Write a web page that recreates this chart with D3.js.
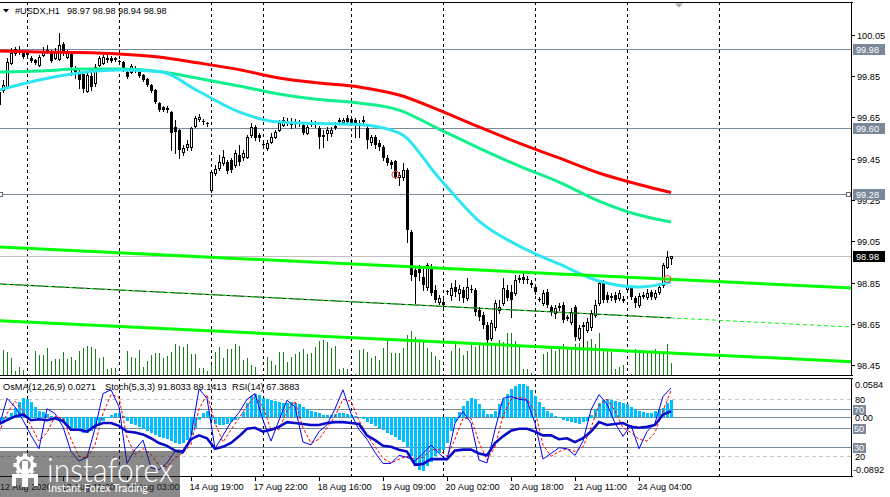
<!DOCTYPE html>
<html>
<head>
<meta charset="utf-8">
<script src="https://cdn.jsdelivr.net/npm/d3@7"></script>
<style>
  body { margin: 0; background: #fff; }
  svg { display: block; }
</style>
</head>
<body>
<div id="chart"></div>
<script>
const width = 890;
const height = 497;

// hourly bars, oldest first
const open = [99.774,99.783,99.798,99.914,99.963,99.977,99.963,99.958,99.938,99.929,99.905,99.953,99.972,99.963,99.938,99.934,100.006,99.943,99.963,99.890,
  99.871,99.861,99.778,99.851,99.817,99.905,99.914,99.938,99.938,99.938,99.924,99.919,99.871,99.871,99.890,99.871,99.856,99.837,99.808,99.783,
  99.720,99.701,99.696,99.677,99.604,99.589,99.483,99.507,99.507,99.609,99.643,99.633,99.623,99.298,99.381,99.405,99.429,99.434,99.444,99.420,
  99.468,99.458,99.458,99.565,99.604,99.565,99.522,99.502,99.531,99.555,99.589,99.614,99.628,99.619,99.628,99.623,99.614,99.575,99.619,99.619,
  99.599,99.565,99.575,99.575,99.604,99.633,99.628,99.648,99.643,99.638,99.623,99.638,99.599,99.531,99.555,99.526,99.507,99.454,99.434,99.439,
  99.362,99.362,99.395,99.095,98.911,98.915,98.877,98.828,98.925,98.814,98.755,98.755,98.809,98.789,98.828,98.799,98.814,98.775,98.818,98.814,
  98.717,98.692,98.644,98.581,98.634,98.717,98.751,98.814,98.804,98.799,98.867,98.877,98.867,98.848,98.828,98.772,98.751,98.804,98.731,98.702,
  98.731,98.741,98.678,98.658,98.731,98.581,98.639,98.620,98.634,98.692,98.751,98.848,98.789,98.780,98.789,98.775,98.765,98.818,98.823,98.775,
  98.741,98.785,98.780,98.804,98.780,98.804,98.838,98.925,98.970];
const high = [99.783,99.832,99.938,99.987,99.992,99.997,99.977,99.977,99.948,99.934,99.953,99.992,100.002,99.977,99.987,100.060,100.016,99.977,99.972,99.900,
  99.880,99.871,99.866,99.880,99.909,99.948,99.953,99.953,99.948,99.943,99.929,99.924,99.880,99.909,99.900,99.875,99.861,99.842,99.812,99.788,
  99.725,99.706,99.706,99.682,99.638,99.594,99.517,99.541,99.604,99.657,99.667,99.643,99.628,99.395,99.420,99.468,99.492,99.444,99.454,99.492,
  99.517,99.492,99.565,99.623,99.614,99.575,99.541,99.541,99.575,99.589,99.638,99.652,99.648,99.648,99.643,99.638,99.628,99.614,99.638,99.633,
  99.609,99.589,99.604,99.604,99.628,99.648,99.648,99.662,99.657,99.648,99.638,99.657,99.609,99.565,99.565,99.541,99.517,99.468,99.444,99.444,
  99.386,99.429,99.405,99.105,98.930,98.935,98.920,98.945,98.940,98.838,98.789,98.775,98.814,98.848,98.862,98.838,98.828,98.872,98.838,98.823,
  98.731,98.707,98.658,98.668,98.765,98.765,98.872,98.838,98.838,98.886,98.886,98.901,98.882,98.862,98.838,98.780,98.814,98.818,98.741,98.741,
  98.751,98.755,98.692,98.726,98.741,98.644,98.658,98.678,98.717,98.765,98.862,98.862,98.804,98.799,98.804,98.814,98.785,98.857,98.833,98.785,
  98.799,98.804,98.818,98.814,98.814,98.848,98.945,99.003,98.980];
const low = [99.677,99.774,99.793,99.909,99.953,99.958,99.938,99.948,99.919,99.909,99.900,99.948,99.963,99.919,99.934,99.929,99.953,99.938,99.856,99.842,
  99.793,99.774,99.774,99.783,99.803,99.900,99.909,99.919,99.919,99.924,99.909,99.875,99.842,99.866,99.871,99.846,99.827,99.803,99.774,99.720,
  99.682,99.682,99.677,99.492,99.478,99.454,99.468,99.492,99.492,99.604,99.633,99.619,99.609,99.289,99.371,99.395,99.420,99.381,99.386,99.410,
  99.420,99.444,99.454,99.555,99.541,99.536,99.507,99.492,99.526,99.551,99.585,99.609,99.614,99.599,99.604,99.609,99.570,99.570,99.609,99.604,
  99.502,99.507,99.541,99.560,99.594,99.623,99.619,99.619,99.614,99.555,99.555,99.619,99.502,99.517,99.502,99.492,99.444,99.420,99.405,99.357,
  99.323,99.347,99.046,98.862,98.751,98.862,98.814,98.814,98.789,98.755,98.746,98.731,98.794,98.765,98.785,98.765,98.755,98.765,98.804,98.692,
  98.668,98.629,98.562,98.571,98.620,98.702,98.741,98.765,98.683,98.789,98.852,98.848,98.848,98.828,98.794,98.760,98.741,98.731,98.692,98.678,
  98.717,98.658,98.668,98.649,98.571,98.571,98.537,98.610,98.620,98.683,98.741,98.755,98.755,98.765,98.755,98.765,98.755,98.809,98.770,98.731,
  98.731,98.775,98.770,98.770,98.770,98.794,98.828,98.920,98.940];
const close = [99.711,99.808,99.919,99.963,99.982,99.968,99.943,99.963,99.924,99.914,99.943,99.972,99.977,99.924,99.968,100.002,99.963,99.968,99.895,99.871,
  99.832,99.788,99.856,99.798,99.895,99.938,99.943,99.929,99.924,99.929,99.919,99.880,99.846,99.900,99.875,99.851,99.832,99.808,99.778,99.725,
  99.686,99.686,99.686,99.575,99.580,99.492,99.502,99.522,99.599,99.648,99.652,99.628,99.619,99.386,99.400,99.434,99.458,99.391,99.395,99.478,
  99.434,99.478,99.555,99.604,99.551,99.551,99.517,99.526,99.555,99.580,99.623,99.638,99.623,99.628,99.619,99.619,99.575,99.604,99.623,99.614,
  99.555,99.555,99.589,99.589,99.609,99.638,99.638,99.628,99.623,99.619,99.619,99.628,99.541,99.555,99.517,99.507,99.454,99.429,99.420,99.362,
  99.371,99.395,99.105,98.886,98.877,98.896,98.838,98.935,98.799,98.765,98.775,98.741,98.804,98.823,98.804,98.818,98.775,98.828,98.814,98.707,
  98.683,98.644,98.571,98.654,98.751,98.731,98.823,98.775,98.765,98.862,98.872,98.862,98.862,98.838,98.804,98.768,98.799,98.741,98.707,98.726,
  98.736,98.668,98.683,98.707,98.586,98.629,98.644,98.658,98.702,98.741,98.848,98.765,98.765,98.785,98.765,98.799,98.770,98.838,98.780,98.751,
  98.785,98.789,98.799,98.780,98.799,98.828,98.935,98.974,98.980];
// tick volume
const volume = [2200,2600,2400,1800,500,900,600,100,100,2500,2100,2100,2800,1500,1700,1700,2400,1700,1900,1600,
  2500,2800,3000,2900,2700,1800,1900,700,800,800,100,100,2500,1900,1800,2600,900,1500,2100,2300,
  2300,1800,2000,2400,3200,3000,2900,3200,2200,2200,800,800,500,1100,2400,2900,1800,2700,2700,3200,
  3000,1600,1800,1100,900,100,100,1900,1500,1100,2400,2400,1400,1900,2200,2400,2700,2200,2300,2900,
  3500,3600,3400,2800,3000,700,800,700,100,200,2600,2700,2400,1800,2000,1600,2800,3700,2300,2300,
  2300,2800,4100,4500,3900,3500,3400,2800,2400,2000,1600,100,100,2500,3200,2800,2100,2500,3100,2900,
  3200,3300,3400,3000,3300,3600,3400,4300,4300,3500,2900,700,700,300,100,100,2200,2400,2700,2500,
  2700,3200,2700,2800,3200,3300,3200,3500,3700,3200,4300,2500,2600,2400,700,900,1100,100,200,2700,
  2500,2600,2400,2500,2700,2500,2200,3200,1300];

// moving averages, read every 10 bars
const maBars = [0,10,20,30,40,50,60,70,80,90,100,110,120,130,140,150,160,168];
const maRed = [99.972,99.968,99.965,99.958,99.943,99.914,99.882,99.842,99.817,99.798,99.759,99.686,99.604,99.526,99.454,99.381,99.325,99.286];
const maGreen = [99.871,99.875,99.885,99.885,99.873,99.839,99.803,99.764,99.737,99.720,99.686,99.594,99.502,99.415,99.337,99.245,99.177,99.143];
const maCyan = [99.783,99.832,99.866,99.880,99.873,99.776,99.677,99.628,99.621,99.616,99.575,99.357,99.148,99.027,98.940,98.857,98.828,98.852];

// regression channel, from first bar to the right edge
const channelBars = [0, 213.25];
const channelTop = [99.022, 98.823];
const channelMid = [98.843, 98.634];
const channelLow = [98.665, 98.466];

const levels = [99.98, 99.60, 99.28];
const lastPrice = 98.98;
const priceTicks = [100.05, 99.85, 99.65, 99.45, 99.25, 99.05, 98.85, 98.65, 98.45];
const markerBars = [99, 167];
const markerPrices = [99.373, 98.867];

// OsMA(12,26,9) every bar
const osma = [-0.008,-0.009,-0.006,0.006,0.015,0.024,0.029,0.028,0.024,0.016,0.010,0.008,0.005,0.002,-0.003,-0.006,-0.009,-0.013,-0.017,-0.020,
  -0.022,-0.024,-0.025,-0.022,-0.017,-0.012,-0.006,-0.002,0.004,0.006,0.006,0.002,-0.006,-0.010,-0.012,-0.015,-0.018,-0.021,-0.024,-0.027,
  -0.030,-0.032,-0.034,-0.037,-0.039,-0.041,-0.040,-0.035,-0.028,-0.018,-0.005,0.006,0.010,-0.004,-0.010,-0.012,-0.012,-0.010,-0.008,-0.005,
  -0.001,0.008,0.022,0.032,0.035,0.034,0.030,0.028,0.026,0.025,0.023,0.022,0.022,0.023,0.022,0.020,0.016,0.013,0.010,0.008,
  0.006,0.004,0.003,0.004,0.005,0.006,0.006,0.005,0.004,0.002,-0.001,-0.003,-0.008,-0.011,-0.014,-0.017,-0.020,-0.024,-0.027,-0.031,
  -0.035,-0.038,-0.045,-0.060,-0.072,-0.080,-0.082,-0.075,-0.068,-0.060,-0.055,-0.050,-0.040,-0.022,-0.008,0.008,0.018,0.025,0.030,0.028,
  0.020,0.012,0.005,0.005,0.010,0.020,0.028,0.036,0.043,0.048,0.051,0.051,0.048,0.042,0.033,0.024,0.016,0.010,0.006,0.002,
  -0.002,-0.004,-0.006,-0.008,-0.009,-0.010,-0.008,-0.006,0.004,0.012,0.022,0.027,0.028,0.027,0.025,0.023,0.022,0.020,0.016,0.012,
  0.009,0.008,0.007,0.007,0.009,0.011,0.014,0.022,0.0271];

// Stoch(5,3,3) and RSI(14), read every 2 bars
const oscBars = d3.range(0, 169, 2);
const stochMain = [51,81,72,58,42,28,70,65,51,25,15,19,49,86,90,72,12.5,27,37,8,6,13,25,23,41,91,81,28,42,56,66,80,86,58,36,58,79,72,35,32,
  46,53,70,90,65,48,38,24,12.5,12.5,21,19,15,23,32,23,16,55,67,55,16,13,48,81,83,80,79,55,17,23,29,28,21,36,69,85,75,55,41,53,28,46,55,83,91.8];
const stochSignal = [45,65,78,68,52,36,45,62,60,38,20,18,32,65,85,82,40,22,28,22,10,9,18,24,32,70,85,55,35,48,60,73,84,72,48,48,68,78,50,34,
  38,50,62,80,78,58,42,30,18,13,17,20,17,19,27,27,20,38,60,60,35,16,30,62,80,82,80,68,32,20,25,28,25,30,50,74,80,68,50,45,38,36,45,68,89.1];
const rsi = [54,58,62,64,58,59,58,60,57,48,48,46,52,55,55,52,46,45,43,39,34,31,26,25,38,42,39,28,30,34,41,49,50,46,48,51,56,55,54,53,
  53,55,56,56,55,54,42,37,31,30,27,25,11,12,17,17,17,26,27,27,23,21,34,41,47,49,49,46,42,42,38,39,35,39,46,56,53,54,55,51,50,51,53,64,67.4];

const timeBars = [0,16,32,48,64,80,96,112,128,144,160];
const timeLabels = ["12 Aug 2020","13 Aug 11:00","14 Aug 03:00","14 Aug 19:00","17 Aug 22:00","18 Aug 16:00",
  "19 Aug 09:00","20 Aug 02:00","20 Aug 18:00","21 Aug 11:00","24 Aug 04:00"];
const gridBars = [7, 30, 53, 66, 88, 111, 134, 157, 180];

const FONT = "Tahoma, 'Liberation Sans', Arial, sans-serif";
const right = 852;
const mainTop = 2, mainBottom = 376, subTop = 378, subBottom = 476;
const slate = "#778899";

const svg = d3.select("#chart").append("svg")
  .attr("width", width).attr("height", height)
  .style("font-family", FONT);

svg.append("rect").attr("width", width).attr("height", height).attr("fill", "#fff");

const x = d3.scaleLinear().domain([0, 213.25]).range([-1, right]);
const y = d3.scaleLinear().domain([98.45, 100.05]).range([365, 35]);
const yVol = d3.scaleLinear().domain([0, 5000]).range([mainBottom, mainBottom - 50]);
const yOsc = d3.scaleLinear().domain([0, 100]).range([475.3, 380.3]);
const yOsma = d3.scaleLinear().domain([-0.0892, 0.0584]).range([subBottom, subTop + 1]);

const bx = (i) => Math.round(x(i));
const py = (v) => Math.round(y(v));

const defs = svg.append("defs");
defs.append("clipPath").attr("id", "clipMain").append("rect")
  .attr("x", 0).attr("y", mainTop + 1).attr("width", right).attr("height", mainBottom - mainTop - 1);
defs.append("clipPath").attr("id", "clipSub").append("rect")
  .attr("x", 0).attr("y", subTop + 1).attr("width", right).attr("height", subBottom - subTop - 1);

const main = svg.append("g").attr("clip-path", "url(#clipMain)");
const sub = svg.append("g").attr("clip-path", "url(#clipSub)");

// ---- main window ----
main.selectAll(".grid").data(gridBars).enter().append("line")
  .attr("x1", (d) => bx(d) + 0.5).attr("x2", (d) => bx(d) + 0.5)
  .attr("y1", mainTop).attr("y2", mainBottom)
  .attr("stroke", "#000").attr("stroke-dasharray", "3,3");

main.selectAll(".vol").data(volume).enter().append("line")
  .attr("x1", (d, i) => bx(i) + 0.5).attr("x2", (d, i) => bx(i) + 0.5)
  .attr("y1", yVol(0)).attr("y2", (d) => Math.round(yVol(d)))
  .attr("stroke", "#1a7f1a").attr("stroke-width", 1);

main.selectAll(".level").data(levels).enter().append("line")
  .attr("x1", 0).attr("x2", right)
  .attr("y1", (d) => py(d) + 0.5).attr("y2", (d) => py(d) + 0.5)
  .attr("stroke", slate);

main.append("line")
  .attr("x1", 0).attr("x2", right)
  .attr("y1", py(lastPrice) + 0.5).attr("y2", py(lastPrice) + 0.5)
  .attr("stroke", "#c0c0c0");

// candles
const bars = main.selectAll(".bar").data(d3.range(close.length)).enter().append("g");
bars.append("line")
  .attr("x1", (i) => bx(i) + 0.5).attr("x2", (i) => bx(i) + 0.5)
  .attr("y1", (i) => py(high[i])).attr("y2", (i) => py(low[i]) + 1)
  .attr("stroke", "#000");
bars.each(function (i) {
  const g = d3.select(this);
  const yo = py(open[i]), yc = py(close[i]);
  if (close[i] > open[i]) {
    g.append("rect")
      .attr("x", bx(i) - 0.5).attr("y", yc + 0.5)
      .attr("width", 2).attr("height", Math.max(yo - yc, 1))
      .attr("fill", "#fff").attr("stroke", "#000");
  } else {
    g.append("rect")
      .attr("x", bx(i) - 1).attr("y", yo)
      .attr("width", 3).attr("height", Math.max(yc - yo, 1))
      .attr("fill", "#000");
  }
});

// moving averages
const maLine = d3.line().x((d, k) => x(maBars[k])).y((d) => y(d)).curve(d3.curveMonotoneX);
[[maRed, "#ff0000"], [maGreen, "#10f08e"], [maCyan, "#2ee6f2"]].forEach(([vals, col]) => {
  main.append("path").attr("d", maLine(vals))
    .attr("fill", "none").attr("stroke", col).attr("stroke-width", 3);
});

// channel
const chLine = d3.line().x((d, k) => x(channelBars[k])).y((d) => y(d));
main.append("path").attr("d", chLine(channelTop)).attr("fill", "none").attr("stroke", "#00ff00").attr("stroke-width", 3);
main.append("path").attr("d", chLine(channelLow)).attr("fill", "none").attr("stroke", "#00ff00").attr("stroke-width", 3);
main.append("line")
  .attr("x1", x(0)).attr("y1", y(channelMid[0]))
  .attr("x2", x(close.length - 1))
  .attr("y2", y(channelMid[0] + (channelMid[1] - channelMid[0]) * (close.length - 1) / channelBars[1]))
  .attr("stroke", "#000").attr("stroke-width", 1);
main.append("path").attr("d", chLine(channelMid)).attr("fill", "none")
  .attr("stroke", "#00ff00").attr("stroke-width", 1).attr("stroke-dasharray", "4,3");

// handles on the 99.28 line
[1, 849].forEach((hx) => {
  main.append("rect").attr("x", hx - 2.5).attr("y", py(99.28) - 1.5)
    .attr("width", 4).attr("height", 4).attr("fill", "#fff").attr("stroke", "#666");
});

main.selectAll(".mark").data(markerBars).enter().append("circle")
  .attr("cx", (d) => bx(d) + 0.5).attr("cy", (d, k) => y(markerPrices[k]))
  .attr("r", 3.5).attr("fill", "none").attr("stroke", "#ff3b3b").attr("stroke-width", 1);

// ---- indicator window ----
[[80, true], [20, true], [70, false], [50, false], [30, false]].forEach(([v, dashed]) => {
  sub.append("line").attr("x1", 0).attr("x2", right)
    .attr("y1", Math.round(yOsc(v)) + 0.5).attr("y2", Math.round(yOsc(v)) + 0.5)
    .attr("stroke", dashed ? "#c8c8c8" : slate)
    .attr("stroke-dasharray", dashed ? "4,3" : null);
});
sub.append("line").attr("x1", 0).attr("x2", right)
  .attr("y1", Math.round(yOsma(0)) + 0.5).attr("y2", Math.round(yOsma(0)) + 0.5)
  .attr("stroke", slate);

sub.selectAll(".grid").data(gridBars).enter().append("line")
  .attr("x1", (d) => bx(d) + 0.5).attr("x2", (d) => bx(d) + 0.5)
  .attr("y1", subTop).attr("y2", subBottom)
  .attr("stroke", "#000").attr("stroke-dasharray", "3,3");

sub.selectAll(".hist").data(osma).enter().append("rect")
  .attr("x", (d, i) => bx(i) - 1)
  .attr("y", (d) => Math.round(Math.min(yOsma(0), yOsma(d))))
  .attr("width", 3)
  .attr("height", (d) => Math.max(1, Math.round(Math.abs(yOsma(d) - yOsma(0)))))
  .attr("fill", "#00bfff");

const oscLine = d3.line().x((d, k) => x(oscBars[k])).y((d) => yOsc(d));
sub.append("path").attr("d", oscLine(stochSignal)).attr("fill", "none")
  .attr("stroke", "#ff0000").attr("stroke-width", 1).attr("stroke-dasharray", "3,2");
sub.append("path").attr("d", oscLine(stochMain)).attr("fill", "none")
  .attr("stroke", "#0000ff").attr("stroke-width", 1);
sub.append("path").attr("d", oscLine(rsi)).attr("fill", "none")
  .attr("stroke", "#0a0ac8").attr("stroke-width", 2.6);

// ---- frames ----
svg.append("line").attr("x1", 0).attr("x2", right + 1).attr("y1", mainTop + 0.5).attr("y2", mainTop + 0.5).attr("stroke", "#000");
svg.append("line").attr("x1", 0).attr("x2", right + 1).attr("y1", mainBottom - 0.5).attr("y2", mainBottom - 0.5).attr("stroke", "#000");
svg.append("line").attr("x1", 0).attr("x2", right + 1).attr("y1", subTop + 0.5).attr("y2", subTop + 0.5).attr("stroke", "#000");
svg.append("line").attr("x1", 0).attr("x2", right + 1).attr("y1", subBottom + 0.5).attr("y2", subBottom + 0.5).attr("stroke", "#000");
svg.append("line").attr("x1", right - 0.5).attr("x2", right - 0.5).attr("y1", mainTop).attr("y2", mainBottom).attr("stroke", "#000");
svg.append("line").attr("x1", right - 0.5).attr("x2", right - 0.5).attr("y1", subTop).attr("y2", subBottom + 1).attr("stroke", "#000");

// chart shift marker
svg.append("polygon").attr("points", "675,3.5 683,3.5 679,7.5").attr("fill", "#a8a8a8");

// ---- price axis ----
const axisText = (tx, ty, label, col) => svg.append("text")
  .attr("x", tx).attr("y", ty).attr("font-size", "9.2px").attr("fill", col || "#000").text(label);

priceTicks.forEach((p) => {
  svg.append("line").attr("x1", right).attr("x2", right + 3)
    .attr("y1", py(p) + 0.5).attr("y2", py(p) + 0.5).attr("stroke", "#000");
  axisText(857, py(p) + 3.5, p.toFixed(2));
});

const tag = (ty, label, fill, w) => {
  svg.append("rect").attr("x", right + 1).attr("y", Math.round(ty) - 5)
    .attr("width", w).attr("height", 11).attr("fill", fill);
  axisText(856, Math.round(ty) + 3.5, label, "#fff");
};
levels.forEach((p) => tag(y(p), p.toFixed(2), "#7b8898", 32));
tag(y(lastPrice), lastPrice.toFixed(2), "#000", 32);

// indicator scale
axisText(855, yOsma(0.0584) + 9, "0.0584");
axisText(855, yOsc(80) + 3.5, "80");
axisText(855, yOsma(0) + 3.5, "0.00");
axisText(855, yOsc(20) + 3.5, "20");
axisText(853, yOsma(-0.0892) - 3.5, "-0.0892");
[70, 50, 30].forEach((v) => {
  svg.append("rect").attr("x", right + 1).attr("y", Math.round(yOsc(v)) - 4)
    .attr("width", 13).attr("height", 10).attr("fill", "#7b8898");
  axisText(854, Math.round(yOsc(v)) + 4, String(v), "#fff");
});

// ---- time axis ----
timeBars.forEach((b, k) => {
  svg.append("line").attr("x1", bx(b) + 0.5).attr("x2", bx(b) + 0.5)
    .attr("y1", subBottom + 1).attr("y2", subBottom + 5).attr("stroke", "#000");
  axisText(Math.max(0, bx(b) - 1.5), 489.5, timeLabels[k]);
});

// ---- headers ----
svg.append("polygon").attr("points", "3,9 9,9 6,12.5").attr("fill", "#000");
axisText(15, 14, "#USDX,H1");
axisText(67, 14, "98.97 98.98 98.94 98.98");
axisText(3, 389.5, "OsMA(12,26,9) 0.0271");
axisText(105, 389.5, "Stoch(5,3,3) 91.8033 89.1413");
axisText(232, 389.5, "RSI(14) 67.3883");

// ---- watermark ----
const wm = svg.append("g");
wm.append("rect").attr("x", 0).attr("y", 451).attr("width", 180).attr("height", 46)
  .attr("fill", "rgba(40,40,40,0.55)");
const logo = wm.append("g").attr("transform", "translate(25,465)").attr("fill", "#fff");
d3.range(8).forEach((k) => {
  logo.append("rect").attr("x", -2).attr("y", -11.5).attr("width", 4).attr("height", 5)
    .attr("transform", `rotate(${k * 45})`);
});
logo.append("circle").attr("r", 7.5).attr("fill", "none").attr("stroke", "#fff").attr("stroke-width", 3.5);
logo.append("rect").attr("x", -3).attr("y", -4).attr("width", 6).attr("height", 26);
logo.append("rect").attr("x", -13).attr("y", 9).attr("width", 26).attr("height", 4);
logo.append("rect").attr("x", -13).attr("y", 9).attr("width", 4).attr("height", 12);
logo.append("rect").attr("x", 9).attr("y", 9).attr("width", 4).attr("height", 12);
wm.append("text").attr("x", 47).attr("y", 481.5)
  .attr("font-family", "Lato, 'Open Sans', sans-serif").attr("font-weight", 300)
  .attr("font-size", "33px").attr("fill", "#fff")
  .attr("textLength", 126).attr("lengthAdjust", "spacingAndGlyphs")
  .text("instaforex");
wm.append("text").attr("x", 48).attr("y", 491.5)
  .attr("font-family", "Lato, 'Open Sans', sans-serif")
  .attr("font-size", "12px").attr("fill", "#fff")
  .attr("textLength", 100).attr("lengthAdjust", "spacingAndGlyphs")
  .text("Instant Forex Trading");
</script>
</body>
</html>
